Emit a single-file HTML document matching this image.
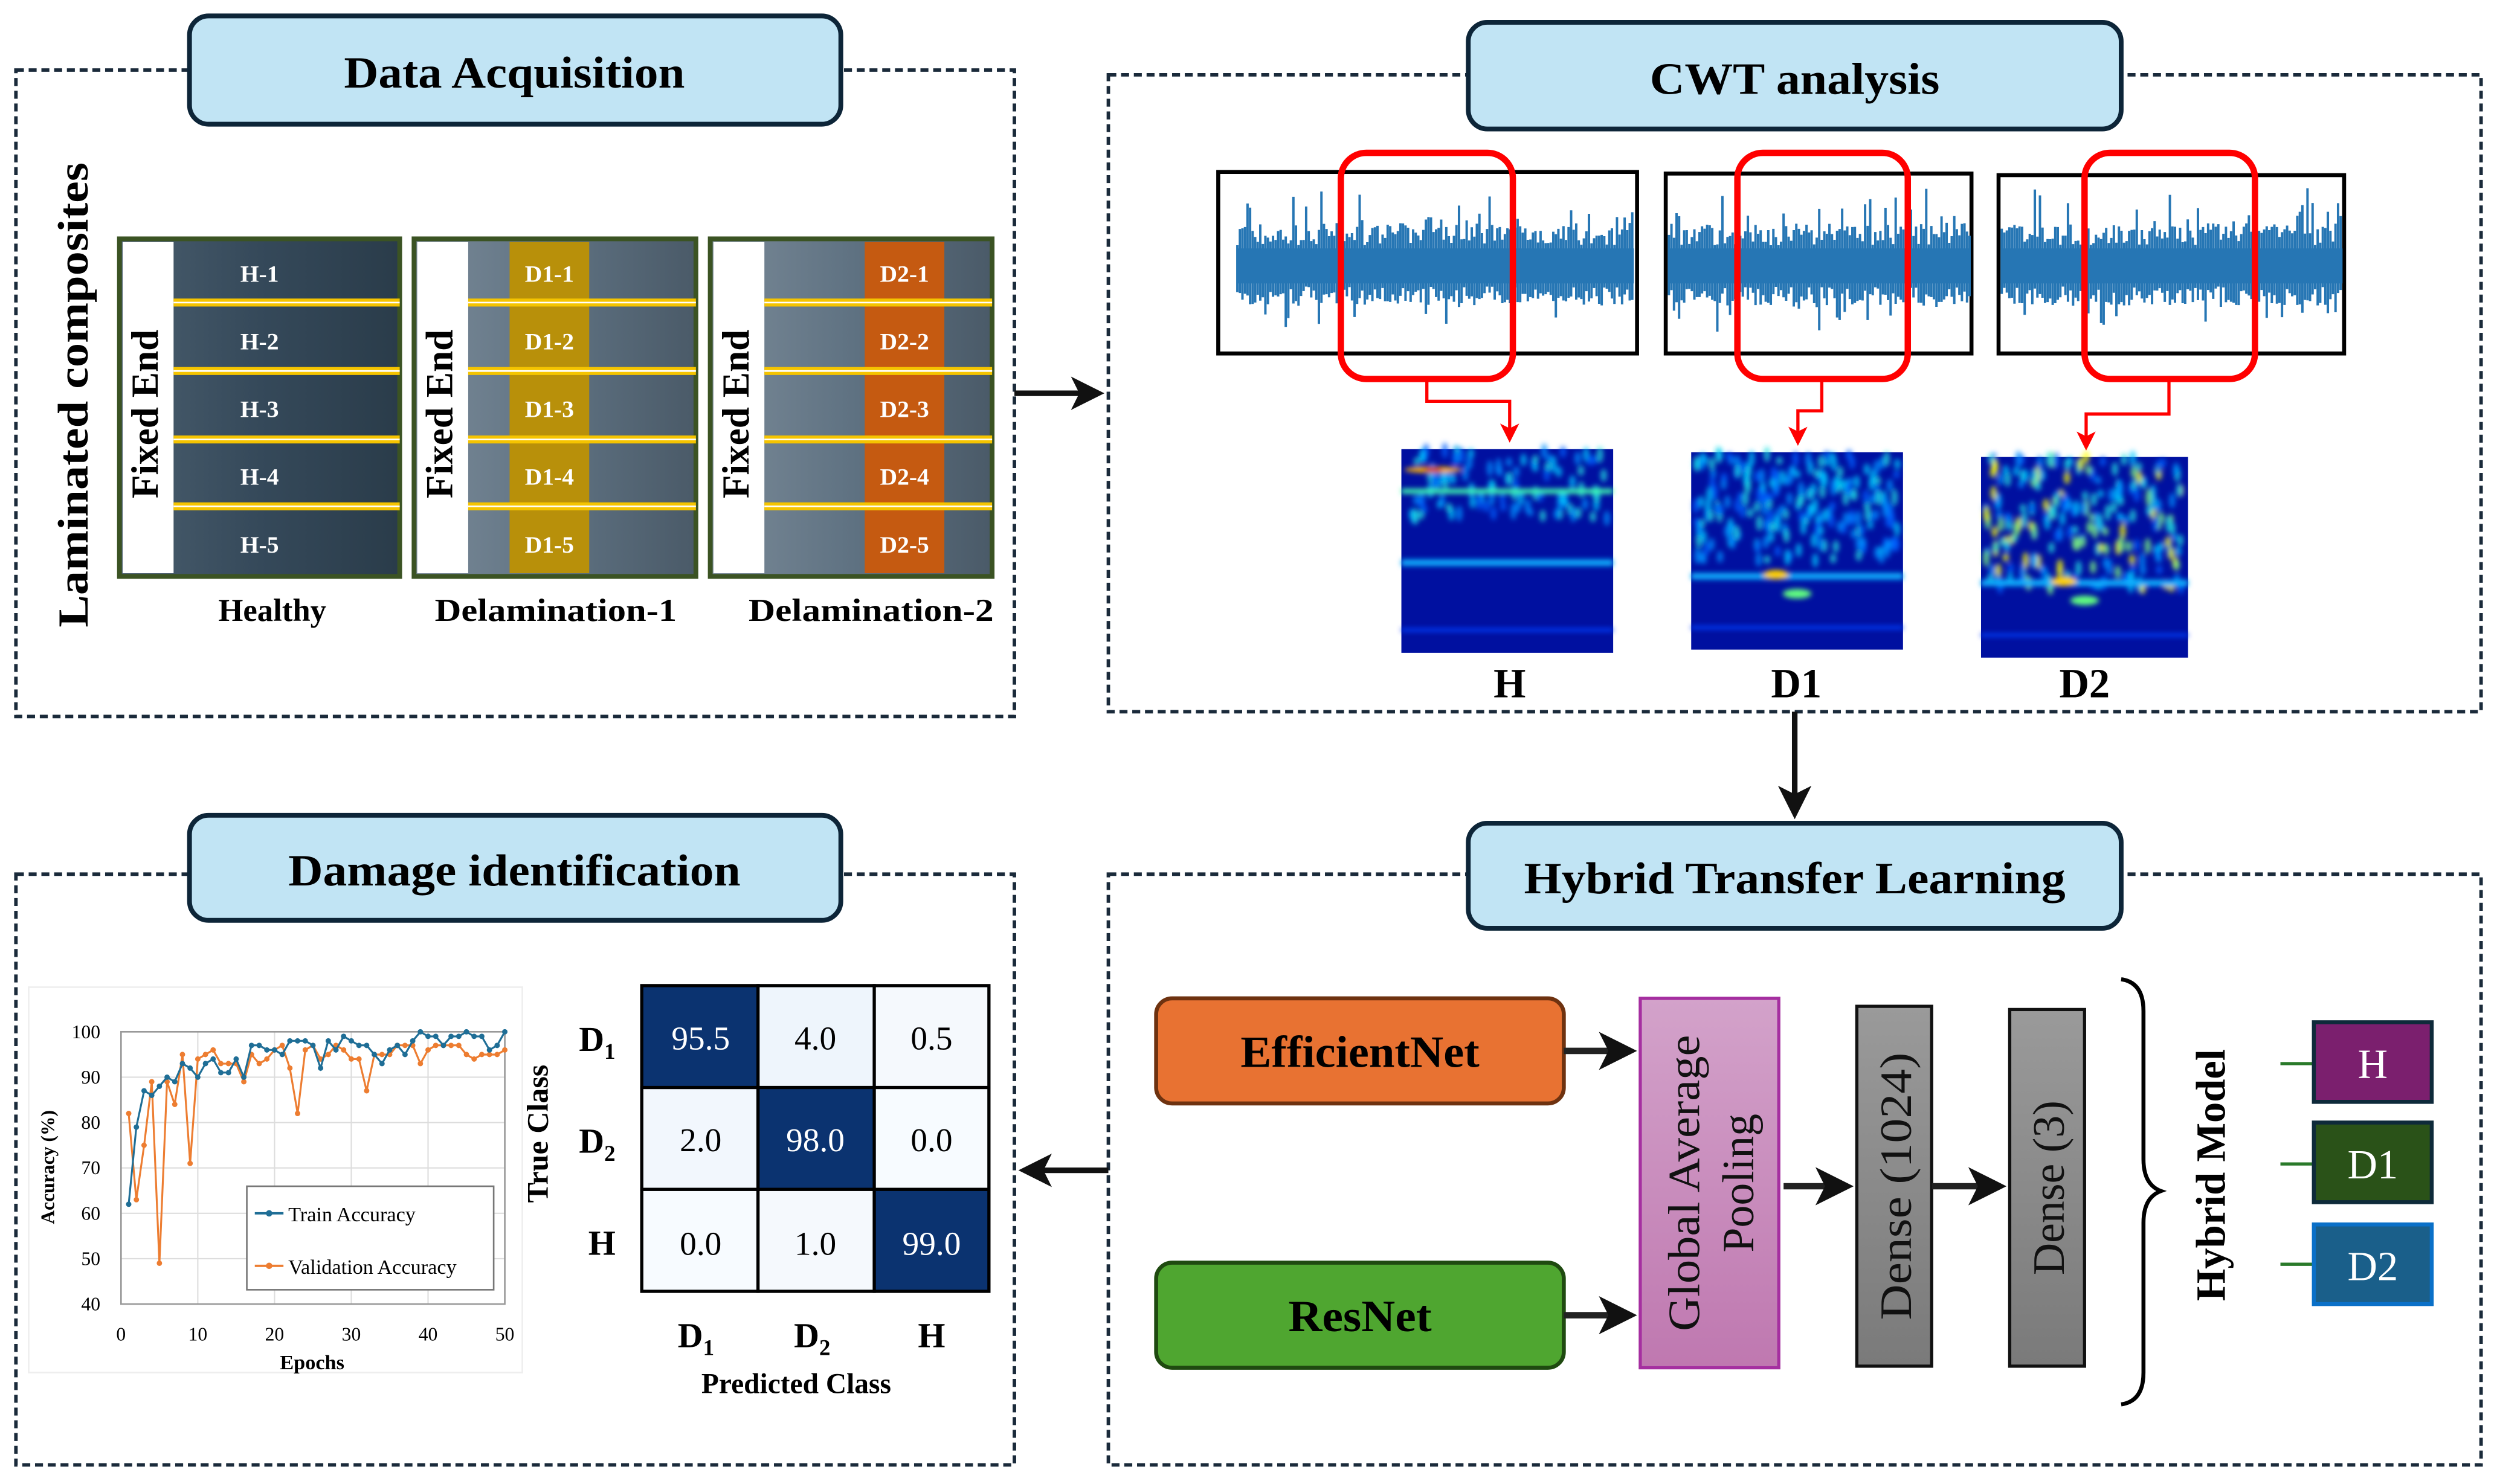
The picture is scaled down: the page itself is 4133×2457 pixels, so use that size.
<!DOCTYPE html>
<html><head><meta charset="utf-8"><style>
html,body{margin:0;padding:0;background:#fff;}
svg{display:block;}
text{font-family:"Liberation Serif",serif;}
</style></head><body>
<svg id="s" width="4133" height="2457" viewBox="0 0 1568 932" preserveAspectRatio="none" xmlns="http://www.w3.org/2000/svg">
<defs>
<marker id="ab" markerWidth="6" markerHeight="6" refX="5" refY="3" orient="auto" markerUnits="strokeWidth"><path d="M0,0 L6,3 L0,6 L1.5,3z" fill="#111"/></marker>
<marker id="ar" markerWidth="6" markerHeight="6" refX="5" refY="3" orient="auto" markerUnits="strokeWidth"><path d="M0,0 L6,3 L0,6 L1.5,3z" fill="#f00"/></marker>
<linearGradient id="gap" x1="0" y1="0" x2="0" y2="1"><stop offset="0" stop-color="#d3a2ca"/><stop offset="1" stop-color="#bf78b0"/></linearGradient>
<linearGradient id="gr" x1="0" y1="0" x2="0" y2="1"><stop offset="0" stop-color="#9a9a9a"/><stop offset="1" stop-color="#7a7a7a"/></linearGradient>
<linearGradient id="steel" x1="0" y1="0" x2="1" y2="0"><stop offset="0" stop-color="#4a5e6e"/><stop offset="0.5" stop-color="#35495a"/><stop offset="1" stop-color="#2a3c4a"/></linearGradient>
<linearGradient id="steel2" x1="0" y1="0" x2="1" y2="0"><stop offset="0" stop-color="#7a8a98"/><stop offset="0.5" stop-color="#5f7282"/><stop offset="1" stop-color="#4a5a68"/></linearGradient>
<filter id="bl"><feGaussianBlur stdDeviation="1.6"/></filter>
</defs>
<g fill="none" stroke="#1a2a3a" stroke-width="2.2" stroke-dasharray="5,3">
<rect x="10" y="44" width="627" height="406"/>
<rect x="696" y="47" width="862" height="400"/>
<rect x="10" y="549" width="627" height="371"/>
<rect x="696" y="549" width="862" height="371"/>
</g>
<g fill="#c1e4f4" stroke="#0d2538" stroke-width="3">
<rect x="119" y="10" width="409" height="68" rx="12"/>
<rect x="922" y="14" width="410" height="67" rx="12"/>
<rect x="119" y="512" width="409" height="66" rx="12"/>
<rect x="922" y="517" width="410" height="66" rx="12"/>
</g>
<g font-weight="bold" font-size="28" text-anchor="middle" fill="#000">
<text x="323" y="55" textLength="214" lengthAdjust="spacingAndGlyphs">Data Acquisition</text>
<text x="1127" y="59" textLength="182" lengthAdjust="spacingAndGlyphs">CWT analysis</text>
<text x="323" y="556" textLength="284" lengthAdjust="spacingAndGlyphs">Damage identification</text>
<text x="1127" y="561" textLength="340" lengthAdjust="spacingAndGlyphs">Hybrid Transfer Learning</text>
</g>
<g stroke="#111" stroke-width="3.5" fill="none">
<line x1="637" y1="247" x2="690" y2="247" marker-end="url(#ab)"/>
<line x1="1127" y1="447" x2="1127" y2="511" marker-end="url(#ab)"/>
<line x1="696" y1="735" x2="643" y2="735" marker-end="url(#ab)"/>
</g>
<text transform="translate(55,248) rotate(-90)" font-weight="bold" font-size="27" text-anchor="middle" textLength="292" lengthAdjust="spacingAndGlyphs">Laminated composites</text>
<g id="specs"></g>
<g font-weight="bold" font-size="20" text-anchor="middle">
<text x="171" y="390">Healthy</text>
<text x="349" y="390" textLength="152" lengthAdjust="spacingAndGlyphs">Delamination-1</text>
<text x="547" y="390" textLength="154" lengthAdjust="spacingAndGlyphs">Delamination-2</text>
</g>
<g fill="#fff" stroke="#000" stroke-width="2.5">
<rect x="765" y="108" width="263" height="114"/>
<rect x="1046" y="109" width="192" height="113"/>
<rect x="1255" y="110" width="217" height="112"/>
</g>
<g id="sig"></g>
<g fill="none" stroke="#f00" stroke-width="4">
<rect x="842" y="96" width="108" height="142" rx="16"/>
<rect x="1091" y="96" width="107" height="142" rx="16"/>
<rect x="1309" y="96" width="107" height="142" rx="16"/>
</g>
<g fill="none" stroke="#f00" stroke-width="2">
<polyline points="896,238 896,252 948,252 948,276" marker-end="url(#ar)"/>
<polyline points="1144,238 1144,258 1129,258 1129,278" marker-end="url(#ar)"/>
<polyline points="1362,238 1362,260 1310,260 1310,281" marker-end="url(#ar)"/>
</g>
<g id="spec2"></g>
<g font-weight="bold" font-size="26" text-anchor="middle">
<text x="948" y="438">H</text><text x="1128" y="438">D1</text><text x="1309" y="438">D2</text>
</g>
<rect x="18" y="620" width="310" height="242" fill="#fff" stroke="#eee"/>
<g id="chart"></g>
<g stroke="#000" stroke-width="2">
<rect x="403" y="619" width="73" height="64" fill="#0b3370"/>
<rect x="476" y="619" width="73" height="64" fill="#eef5fc"/>
<rect x="549" y="619" width="72" height="64" fill="#f5f9fd"/>
<rect x="403" y="683" width="73" height="64" fill="#f2f7fd"/>
<rect x="476" y="683" width="73" height="64" fill="#0b3370"/>
<rect x="549" y="683" width="72" height="64" fill="#f7fbff"/>
<rect x="403" y="747" width="73" height="64" fill="#f7fbff"/>
<rect x="476" y="747" width="73" height="64" fill="#f5f9fd"/>
<rect x="549" y="747" width="72" height="64" fill="#0b3370"/>
</g>
<g font-size="21" text-anchor="middle">
<text x="440" y="659" fill="#fff">95.5</text><text x="512" y="659">4.0</text><text x="585" y="659">0.5</text>
<text x="440" y="723">2.0</text><text x="512" y="723" fill="#fff">98.0</text><text x="585" y="723">0.0</text>
<text x="440" y="788">0.0</text><text x="512" y="788">1.0</text><text x="585" y="788" fill="#fff">99.0</text>
</g>
<g font-weight="bold" font-size="22" text-anchor="middle">
<text x="375" y="660">D<tspan font-size="14" dy="5">1</tspan></text>
<text x="375" y="724">D<tspan font-size="14" dy="5">2</tspan></text>
<text x="378" y="788">H</text>
<text x="437" y="846">D<tspan font-size="14" dy="5">1</tspan></text>
<text x="510" y="846">D<tspan font-size="14" dy="5">2</tspan></text>
<text x="585" y="846">H</text>
<text x="500" y="875" font-size="18">Predicted Class</text>
<text transform="translate(344,712) rotate(-90)" font-size="19">True Class</text>
</g>
<rect x="726" y="627" width="256" height="66" rx="10" fill="#e87232" stroke="#6e3210" stroke-width="2.5"/>
<rect x="726" y="793" width="256" height="66" rx="10" fill="#4fa630" stroke="#1f4a10" stroke-width="2.5"/>
<g font-weight="bold" font-size="28" text-anchor="middle">
<text x="854" y="670" textLength="150" lengthAdjust="spacingAndGlyphs">EfficientNet</text>
<text x="854" y="836" textLength="90" lengthAdjust="spacingAndGlyphs">ResNet</text>
</g>
<rect x="1030" y="627" width="87" height="232" fill="url(#gap)" stroke="#a52fa0" stroke-width="2"/>
<rect x="1166" y="632" width="47" height="226" fill="url(#gr)" stroke="#111" stroke-width="2"/>
<rect x="1262" y="634" width="47" height="224" fill="url(#gr)" stroke="#111" stroke-width="2"/>
<g font-size="28" text-anchor="middle" fill="#111">
<text transform="translate(1067,743) rotate(-90)" textLength="186" lengthAdjust="spacingAndGlyphs">Global Average</text>
<text transform="translate(1101,743) rotate(-90)">Pooling</text>
<text transform="translate(1200,745) rotate(-90)" textLength="168" lengthAdjust="spacingAndGlyphs">Dense (1024)</text>
<text transform="translate(1296,746) rotate(-90)">Dense (3)</text>
</g>
<g stroke="#222" stroke-width="4" fill="none">
<line x1="982" y1="660" x2="1024" y2="660" marker-end="url(#ab)"/>
<line x1="982" y1="826" x2="1024" y2="826" marker-end="url(#ab)"/>
<line x1="1120" y1="745" x2="1160" y2="745" marker-end="url(#ab)"/>
<line x1="1213" y1="745" x2="1256" y2="745" marker-end="url(#ab)"/>
</g>
<path d="M1332,615 Q1346,617 1346,635 L1346,728 Q1346,744 1357,748 Q1346,752 1346,768 L1346,862 Q1346,880 1332,882" fill="none" stroke="#000" stroke-width="2.5"/>
<text transform="translate(1397,738) rotate(-90)" font-weight="bold" font-size="26" text-anchor="middle">Hybrid Model</text>
<g stroke="#2a7a2a" stroke-width="2"><line x1="1432" y1="668" x2="1453" y2="668"/><line x1="1432" y1="731" x2="1453" y2="731"/><line x1="1432" y1="794" x2="1453" y2="794"/></g>
<rect x="1453" y="642" width="74" height="50" fill="#7b1f6e" stroke="#0e2a3a" stroke-width="2.5"/>
<rect x="1453" y="705" width="74" height="50" fill="#2a5218" stroke="#0e2a3a" stroke-width="2.5"/>
<rect x="1453" y="769" width="74" height="50" fill="#1a5f8a" stroke="#0a70c8" stroke-width="2.5"/>
<g font-size="26" text-anchor="middle" fill="#fff">
<text x="1490" y="677">H</text><text x="1490" y="740">D1</text><text x="1490" y="804">D2</text>
</g>
</svg>
<script>
(function(){
var NS="http://www.w3.org/2000/svg";
var seed=7;function r(){seed=(seed*16807)%2147483647;return seed/2147483647;}
function el(p,t,a){var e=document.createElementNS(NS,t);for(var k in a)e.setAttribute(k,a[k]);p.appendChild(e);return e;}
var sp=document.getElementById('specs');
var cfg=[[75,251,null,163,'H-'],[260,437,'#b8900a',345,'D1-'],[446,623,'#c55a11',568,'D2-']];
cfg.forEach(function(c,ci){
 var x0=c[0],x1=c[1];
 el(sp,'rect',{x:x0,y:150,width:x1-x0,height:212,fill:ci==0?'url(#steel)':'url(#steel2)',stroke:'#3b5323','stroke-width':3});
 el(sp,'rect',{x:x0+2,y:152,width:32,height:208,fill:'#fff'});
 if(c[2])el(sp,'rect',{x:c[3]-25,y:152,width:50,height:208,fill:c[2]});
 [190,233,276,318].forEach(function(y){el(sp,'rect',{x:x0+34,y:y-2.5,width:x1-x0-34,height:5,fill:'#f5c400'});el(sp,'line',{x1:x0+34,x2:x1,y1:y,y2:y,stroke:'#fff','stroke-width':1});});
 for(var i=0;i<5;i++){var t=el(sp,'text',{x:c[3],y:177+i*42.5,'text-anchor':'middle','font-weight':'bold','font-size':15,fill:'#fff'});t.textContent=c[4]+(i+1);}
 var ft=el(sp,'text',{transform:'translate('+(x0+24)+',260) rotate(-90)','text-anchor':'middle','font-weight':'bold','font-size':24});ft.textContent='Fixed End';
});
var sg=document.getElementById('sig');
[[777,1026,168],[1048,1237,168],[1257,1471,168]].forEach(function(s){
 var d='';for(var x=s[0];x<=s[1];x+=1.6){var a=14+r()*14;if(r()<0.18)a+=r()*24;var b=12+r()*12;if(r()<0.14)b+=r()*18;d+='M'+x.toFixed(1)+','+(s[2]-a).toFixed(1)+'V'+(s[2]+b).toFixed(1);}
 el(sg,'path',{d:d,stroke:'#2676b4','stroke-width':1.5,fill:'none'});
 el(sg,'rect',{x:s[0],y:s[2]-12,width:s[1]-s[0],height:22,fill:'#2676b4'});
});
var s2=document.getElementById('spec2');
var cols=['#00c8ff','#0090ff','#20e0e0','#0060ff','#80ff80','#ffff00'];
[[880,282,133,128,0],[1062,284,133,124,1],[1244,287,130,126,2]].forEach(function(p){
 el(s2,'rect',{x:p[0],y:p[1],width:p[2],height:p[3],fill:'#0010a0'});
 var g=el(s2,'g',{filter:'url(#bl)'});
 var top=p[4]==0?0.35:(p[4]==1?0.55:0.65);
 for(var i=0;i<(p[4]==0?100:220);i++){var yy=p[1]+r()*p[3]*top;var c=cols[Math.floor(r()*(p[4]==2?6:4))];
  el(g,'ellipse',{cx:p[0]+3+r()*(p[2]-6),cy:yy,rx:2,ry:2.5+r()*3,fill:c,opacity:0.75});}
 if(p[4]==0){el(g,'rect',{x:p[0],y:p[1]+25,width:p[2],height:3,fill:'#40ffb0'});el(g,'ellipse',{cx:p[0]+20,cy:p[1]+13,rx:18,ry:2,fill:'#ffb000'});el(g,'ellipse',{cx:p[0]+20,cy:p[1]+13,rx:6,ry:1.5,fill:'#d00000'});}
 var by=p[1]+p[3]*(p[4]==0?0.55:0.62);el(g,'rect',{x:p[0],y:by-1,width:p[2],height:4,fill:'#10b0ff'});
 if(p[4]>0){el(g,'ellipse',{cx:p[0]+p[2]*0.4,cy:by,rx:8,ry:3,fill:'#ffd000'});el(g,'ellipse',{cx:p[0]+p[2]*0.5,cy:by+12,rx:9,ry:3,fill:'#60ff80'});}
 el(g,'rect',{x:p[0],y:p[1]+p[3]*0.88,width:p[2],height:2,fill:'#0040ff'});
});
var ch=document.getElementById('chart');
function X(e){return 76+e*(241/50);}function Y(v){return 648+(100-v)*(171/60);}
for(var v=40;v<=100;v+=10){el(ch,'line',{x1:76,x2:317,y1:Y(v),y2:Y(v),stroke:'#ddd','stroke-width':0.8});var t=el(ch,'text',{x:63,y:Y(v)+4,'text-anchor':'end','font-size':12});t.textContent=v;}
for(var e=0;e<=50;e+=10){el(ch,'line',{x1:X(e),x2:X(e),y1:648,y2:819,stroke:'#ddd','stroke-width':0.8});var t=el(ch,'text',{x:X(e),y:842,'text-anchor':'middle','font-size':12});t.textContent=e;}
el(ch,'rect',{x:76,y:648,width:241,height:171,fill:'none',stroke:'#999','stroke-width':1});
var tr=[62,79,87,86,88,90,89,93,92,90,93,94,91,91,94,90,97,97,96,96,95,98,98,98,97,92,98,96,99,98,97,97,95,93,96,97,95,98,100,99,99,97,99,99,100,99,99,96,97,100];
var va=[82,63,75,89,49,89,84,95,71,94,95,96,93,93,93,89,95,93,94,96,97,92,82,96,97,94,95,97,96,94,94,87,95,95,95,97,97,97,93,96,97,97,97,97,95,94,95,95,95,96];
[[va,'#ed7d31'],[tr,'#1f6e96']].forEach(function(s){var pts=s[0].map(function(v,i){return X(i+1).toFixed(1)+','+Y(v).toFixed(1);}).join(' ');
 el(ch,'polyline',{points:pts,fill:'none',stroke:s[1],'stroke-width':1.2});
 s[0].forEach(function(v,i){el(ch,'circle',{cx:X(i+1),cy:Y(v),r:1.7,fill:s[1]});});});
el(ch,'rect',{x:155,y:745,width:155,height:65,fill:'#fff',stroke:'#777','stroke-width':1});
el(ch,'line',{x1:160,x2:178,y1:762,y2:762,stroke:'#1f6e96','stroke-width':1.5});el(ch,'circle',{cx:169,cy:762,r:2,fill:'#1f6e96'});
el(ch,'line',{x1:160,x2:178,y1:795,y2:795,stroke:'#ed7d31','stroke-width':1.5});el(ch,'circle',{cx:169,cy:795,r:2,fill:'#ed7d31'});
var t=el(ch,'text',{x:181,y:767,'font-size':13});t.textContent='Train Accuracy';
t=el(ch,'text',{x:181,y:800,'font-size':13});t.textContent='Validation Accuracy';
t=el(ch,'text',{x:196,y:860,'text-anchor':'middle','font-size':13,'font-weight':'bold'});t.textContent='Epochs';
t=el(ch,'text',{transform:'translate(34,733) rotate(-90)','text-anchor':'middle','font-size':12,'font-weight':'bold'});t.textContent='Accuracy (%)';
})();
</script>
</body></html>
